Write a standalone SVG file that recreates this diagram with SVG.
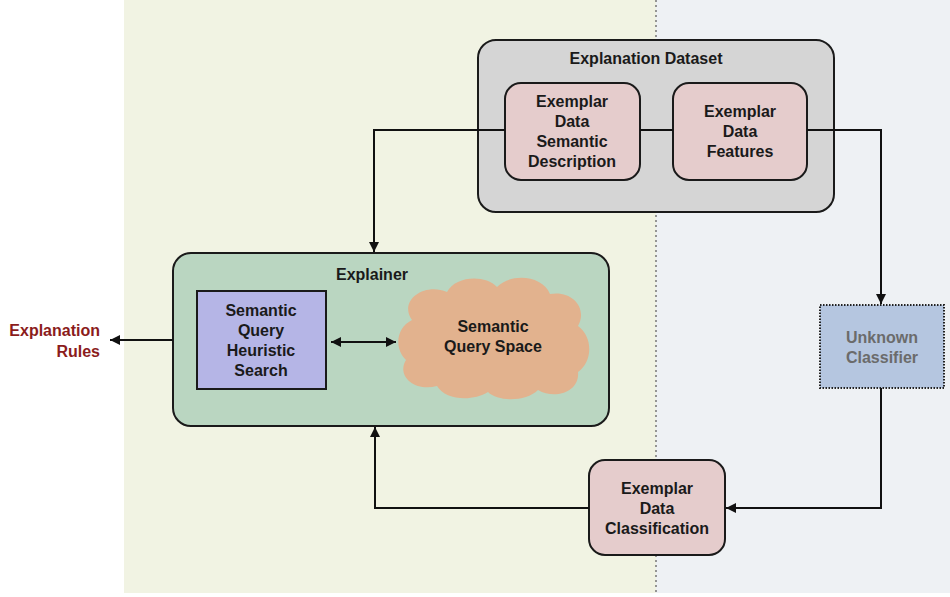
<svg xmlns="http://www.w3.org/2000/svg" width="950" height="597" viewBox="0 0 950 597">
<defs>
<marker id="ah" viewBox="0 0 10 10" refX="10" refY="5" markerWidth="11" markerHeight="10" markerUnits="userSpaceOnUse" orient="auto-start-reverse">
<path d="M0,0 L10,5 L0,10 z" fill="#111"/>
</marker>
</defs>
<style>
text{font-family:"Liberation Sans",Arial,sans-serif;font-weight:bold;font-size:16px;fill:#1a1a1a;text-anchor:middle}
.pink{fill:#e5cccc;stroke:#1a1a1a;stroke-width:2}
.conn{fill:none;stroke:#111;stroke-width:2}
</style>
<rect x="0" y="0" width="950" height="597" fill="#ffffff"/>
<rect x="124" y="0" width="532" height="593" fill="#f1f3e3"/>
<rect x="656" y="0" width="294" height="593" fill="#eef1f4"/>
<line x1="656" y1="0" x2="656" y2="593" stroke="#777" stroke-width="1.5" stroke-dasharray="2,3"/>

<g id="explanation-dataset">
<rect x="478" y="40" width="356" height="172" rx="18" fill="#d5d5d5" stroke="#1a1a1a" stroke-width="2"/>
<text x="646" y="64">Explanation Dataset</text>
</g>
<g id="semantic-description">
<rect class="pink" x="505" y="83" width="135" height="97" rx="16"/>
<text x="572" y="107">Exemplar</text>
<text x="572" y="127">Data</text>
<text x="572" y="147">Semantic</text>
<text x="572" y="167">Description</text>
</g>
<g id="data-features">
<rect class="pink" x="673" y="83" width="134" height="97" rx="16"/>
<text x="740" y="117">Exemplar</text>
<text x="740" y="137">Data</text>
<text x="740" y="157">Features</text>
</g>

<g id="explainer">
<rect x="173" y="253" width="436" height="173" rx="18" fill="#bad6c1" stroke="#1a1a1a" stroke-width="2"/>
<text x="372" y="280">Explainer</text>
</g>
<g id="heuristic-search">
<rect x="197" y="291" width="129" height="98" fill="#b5b5e6" stroke="#1a1a1a" stroke-width="2"/>
<text x="261" y="316">Semantic</text>
<text x="261" y="336">Query</text>
<text x="261" y="356">Heuristic</text>
<text x="261" y="376">Search</text>
</g>
<g id="query-space">
<path d="M412,320 C398,300 425,282 447,292 C455,276 485,274 497,287 C512,272 543,276 550,294 C572,290 588,308 578,326 C594,338 592,362 578,372 C580,392 555,400 538,390 C526,402 498,402 488,392 C472,402 445,400 437,386 C415,392 396,376 406,360 C394,348 396,328 412,320 Z" fill="#e2b28e"/>
<text x="493" y="332">Semantic</text>
<text x="493" y="352">Query Space</text>
</g>

<g id="explanation-rules">
<text x="100" y="336" style="fill:#8b1c1c;text-anchor:end">Explanation</text>
<text x="100" y="357" style="fill:#8b1c1c;text-anchor:end">Rules</text>
</g>

<g id="unknown-classifier">
<rect x="820" y="305" width="124" height="83" fill="#b5c6e0" stroke="#222" stroke-width="2" stroke-dasharray="1.5,1.5"/>
<text x="882" y="343" style="fill:#6b6b6b">Unknown</text>
<text x="882" y="363" style="fill:#6b6b6b">Classifier</text>
</g>

<g id="data-classification">
<rect class="pink" x="589" y="460" width="136" height="95" rx="16"/>
<text x="657" y="494">Exemplar</text>
<text x="657" y="514">Data</text>
<text x="657" y="534">Classification</text>
</g>

<g id="connectors">
<polyline class="conn" points="505,130 374,130 374,252" marker-end="url(#ah)"/>
<line class="conn" x1="640" y1="130" x2="673" y2="130"/>
<polyline class="conn" points="807,130 881,130 881,304" marker-end="url(#ah)"/>
<polyline class="conn" points="881,388 881,508 726,508" marker-end="url(#ah)"/>
<polyline class="conn" points="589,508 375,508 375,427" marker-end="url(#ah)"/>
<line class="conn" x1="173" y1="340" x2="110" y2="340" marker-end="url(#ah)"/>
<line class="conn" x1="331" y1="342" x2="396" y2="342" marker-start="url(#ah)" marker-end="url(#ah)"/>
</g>
</svg>
